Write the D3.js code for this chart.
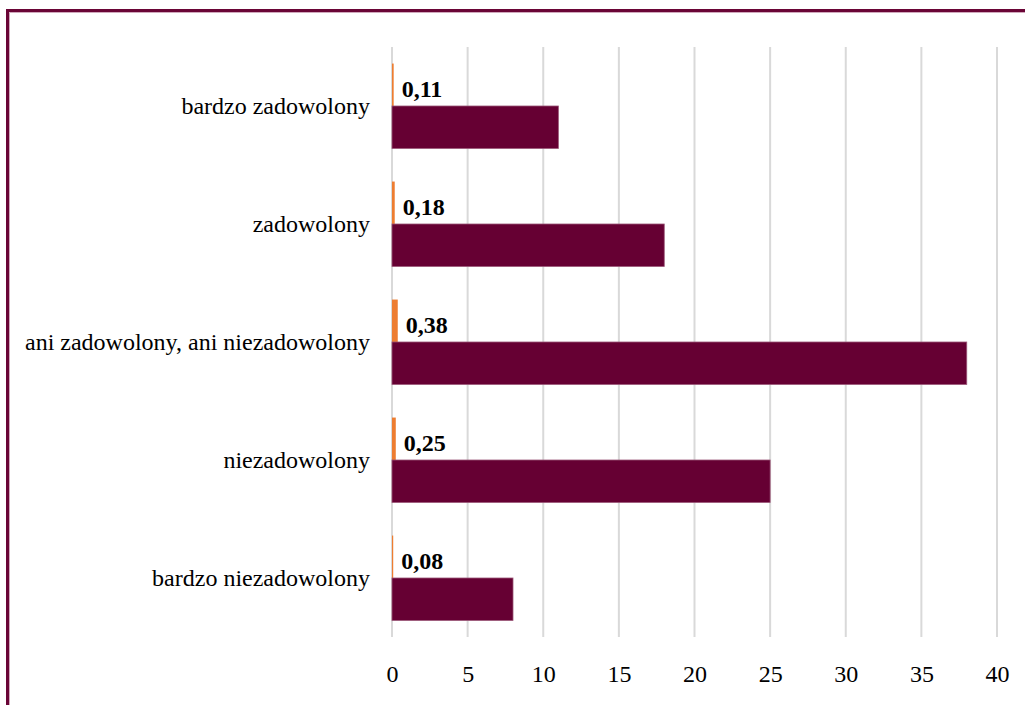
<!DOCTYPE html>
<html lang="pl">
<head>
<meta charset="utf-8">
<script src="https://cdn.jsdelivr.net/npm/d3@7"></script>
<style>
  html, body { margin: 0; padding: 0; background: #fff; }
  svg { display: block; }
  text { font-family: "Liberation Serif", "Times New Roman", serif; fill: #000; }
</style>
</head>
<body>
<svg id="chart" width="1025" height="705"></svg>
<script>
// Satisfaction categories, top to bottom
const categories = [
  "bardzo zadowolony",
  "zadowolony",
  "ani zadowolony, ani niezadowolony",
  "niezadowolony",
  "bardzo niezadowolony"
];
// Main series (percent of respondents)
const percentValues = [11, 18, 38, 25, 8];
// Share series (fractions), shown as labels
const shareValues = [0.11, 0.18, 0.38, 0.25, 0.08];
const shareLabels = ["0,11", "0,18", "0,38", "0,25", "0,08"];
// Axis ticks
const xTicks = [0, 5, 10, 15, 20, 25, 30, 35, 40];

const svg = d3.select("#chart");
const W = 1025, H = 705;
const plot = { left: 392, right: 997, top: 47, bottom: 637 };

// Frame: left and top edges in burgundy
svg.append("path")
  .attr("d", `M7.5,${H} L7.5,10.5 L${W},10.5`)
  .attr("fill", "none")
  .attr("stroke", "#6a0536")
  .attr("stroke-width", 3);
svg.append("path")
  .attr("d", `M9.5,${H} L9.5,12.5 L${W},12.5`)
  .attr("fill", "none")
  .attr("stroke", "#b07090")
  .attr("stroke-width", 1)
  .attr("opacity", 0.6);

const x = d3.scaleLinear().domain([0, 40]).range([plot.left, plot.right]);
const y = d3.scaleBand().domain(categories).range([plot.top, plot.bottom]).paddingInner(0).paddingOuter(0);
const inner = d3.scaleBand().domain(["share", "percent"]).range([0, y.bandwidth()]).paddingInner(0).paddingOuter(0.39);

// Vertical gridlines
svg.append("g")
  .selectAll("line")
  .data(xTicks)
  .join("line")
  .attr("x1", d => x(d)).attr("x2", d => x(d))
  .attr("y1", plot.top).attr("y2", plot.bottom)
  .attr("stroke", "#d9d9d9")
  .attr("stroke-width", 2);

// Bottom axis labels
const xAxis = d3.axisBottom(x).tickValues(xTicks).tickSize(0).tickPadding(0).tickFormat(d3.format("d"));
const gx = svg.append("g")
  .attr("transform", `translate(0,${plot.bottom + 28})`)
  .call(xAxis);
gx.select(".domain").remove();
gx.selectAll("text")
  .attr("font-family", "Liberation Serif, serif")
  .attr("font-size", 24)
  .attr("dy", "0.71em")
  .attr("fill", "#000");

// Category labels
const gy = svg.append("g")
  .attr("transform", `translate(${plot.left - 22},0)`)
  .call(d3.axisLeft(y).tickSize(0).tickPadding(0));
gy.select(".domain").remove();
gy.selectAll("text")
  .attr("font-family", "Liberation Serif, serif")
  .attr("font-size", 24)
  .attr("dy", "0.32em")
  .attr("fill", "#000");

const rows = categories.map((c, i) => ({ c, pct: percentValues[i], share: shareValues[i], label: shareLabels[i] }));

// Share bars (orange)
svg.append("g")
  .selectAll("rect")
  .data(rows)
  .join("rect")
  .attr("x", x(0))
  .attr("y", d => y(d.c) + inner("share"))
  .attr("width", d => x(d.share) - x(0))
  .attr("height", inner.bandwidth())
  .attr("fill", "#ed7d31");

// Percent bars (burgundy)
svg.append("g")
  .selectAll("rect")
  .data(rows)
  .join("rect")
  .attr("x", x(0))
  .attr("y", d => y(d.c) + inner("percent"))
  .attr("width", d => x(d.pct) - x(0))
  .attr("height", inner.bandwidth())
  .attr("fill", "#660033")
  .attr("stroke", "#9a5577")
  .attr("stroke-width", 0.8);

// Share value labels
svg.append("g")
  .selectAll("text")
  .data(rows)
  .join("text")
  .attr("x", d => x(d.share) + 8)
  .attr("y", d => y(d.c) + inner("share") + inner.bandwidth() - 9)
  .attr("font-size", 24)
  .attr("font-weight", "bold")
  .text(d => d.label);
</script>
</body>
</html>
